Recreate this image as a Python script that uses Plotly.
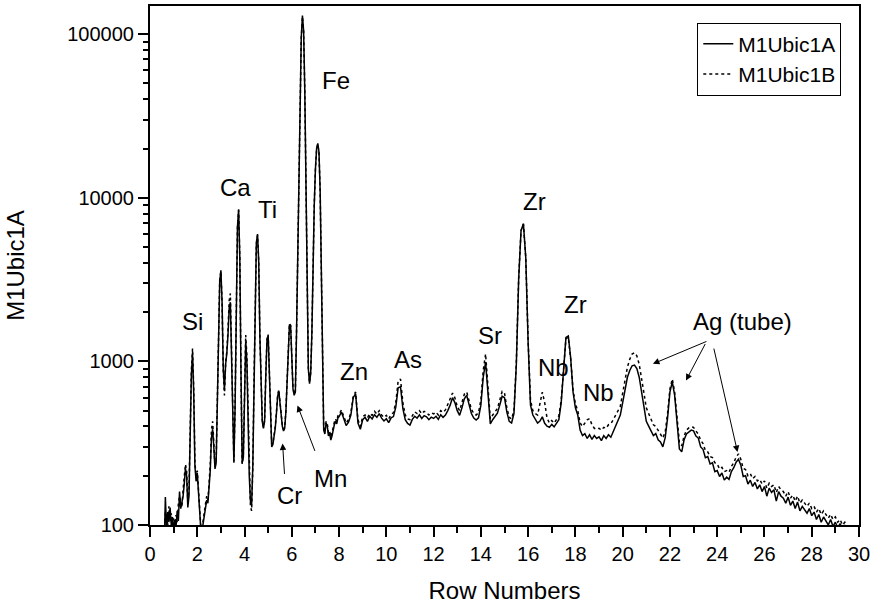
import numpy as np
import plotly.graph_objects as go

# ---------------- data ----------------
# low-energy part: rows 0.60 .. 7.95 (step 0.05)
x_low = np.round(np.arange(0.60, 7.951, 0.05), 2)
a_low = [
    70, 148, 96, 120, 104, 128, 99, 112,
    92, 108, 97, 122, 106, 160, 126, 138, 150, 178, 222, 200, 128, 150, 380, 820, 1130, 640, 230, 185,
    208, 150, 108, 94, 92, 104, 120, 128, 142, 136, 168, 215, 340, 385, 300, 220, 240, 520, 1500, 3100,
    3600, 2300, 900, 670, 960, 1120, 1450, 2100, 2300, 1050, 330, 240, 520, 2300, 6600, 8500, 4300, 850, 240, 260,
    720, 1320, 980, 430, 200, 140, 132, 230, 760, 2600, 5300, 6000, 4100, 1400, 610, 430, 390, 430, 820, 1350,
    1440, 880, 420, 300, 310, 345, 390, 480, 610, 660, 560, 450, 400, 375, 390, 490, 820, 1350, 1680, 1650,
    1050, 680, 620, 650, 1500, 5000, 15000, 45000, 95000, 130000, 105000, 45000, 12000, 2500, 900, 730, 850, 1500, 4000, 9000,
    15000, 20000, 21500, 19000, 11000, 3500, 900, 380, 360, 420, 405, 350, 365, 330, 350, 390, 410, 430, 415, 450,
]
b_low = [
    75, 120, 112, 98, 130, 105, 118, 100,
    110, 96, 115, 104, 135, 150, 140, 128, 165, 190, 235, 215, 140, 160, 400, 880, 1200, 690, 245, 195,
    215, 155, 112, 98, 95, 110, 124, 135, 150, 142, 180, 235, 380, 430, 320, 225, 250, 540, 1550, 3150,
    3550, 2300, 880, 620, 980, 1150, 1550, 2350, 2600, 1150, 340, 245, 530, 2300, 6500, 8400, 4300, 860, 235, 270,
    780, 1450, 1080, 460, 195, 130, 122, 225, 750, 2550, 5200, 5900, 4100, 1420, 620, 440, 395, 440, 830, 1370,
    1460, 900, 430, 310, 315, 350, 400, 490, 620, 670, 570, 460, 405, 385, 400, 500, 830, 1370, 1700, 1660,
    1060, 690, 630, 660, 1520, 5000, 15000, 45000, 94000, 128000, 104000, 45000, 12000, 2500, 910, 740, 860, 1500, 4000, 9000,
    15000, 19800, 21300, 18800, 11000, 3500, 910, 390, 370, 430, 420, 365, 375, 345, 365, 400, 425, 445, 430, 465,
]

# high-energy part: rows 8.0 .. 29.6 (step 0.1)
x_high = np.round(np.arange(8.0, 29.601, 0.1), 1)
a_high = [
    460, 490, 445, 405, 425, 470, 600, 635, 420, 385,
    440, 455, 430, 462, 445, 472, 455, 480, 450, 432,
    446, 422, 452, 460, 525, 690, 700, 515, 440, 418,
    408, 442, 462, 450, 472, 448, 466, 458, 440, 456,
    448, 462, 442, 472, 455, 470, 500, 540, 600, 560,
    500, 468, 520, 590, 620, 540, 480, 450, 438, 452,
    540, 800, 990, 640, 415, 440, 458, 482, 540, 612,
    600, 490, 430, 420, 480, 950, 3200, 6300, 6950, 4300,
    1300, 540, 470, 448, 420, 432, 458, 418, 402, 396,
    412, 398, 422, 440, 560, 950, 1400, 1430, 1050, 650,
    520, 470, 380, 352, 362, 338, 356, 334, 352, 338,
    346, 328, 352, 338, 356, 344, 372, 400, 432, 470,
    560, 680, 800, 880, 940, 950, 905, 800, 660, 520,
    430, 402, 372, 352, 362, 332, 322, 300, 342, 450,
    650, 750, 620, 400, 292, 280, 332, 360, 372, 380,
    376, 350, 340, 300, 290, 258, 262, 236, 240, 212,
    215, 198, 208, 188, 196, 190, 212, 224, 242, 252,
    232, 198, 200, 178, 188, 172, 182, 166, 176, 160,
    172, 150, 168, 158, 164, 140, 160, 150, 146, 136,
    148, 132, 140, 126, 138, 122, 130, 124, 118, 126,
    114, 120, 108, 116, 104, 112, 106, 100, 108, 98,
    104, 96, 102, 94, 100, 92, 80,
]
b_high = [
    475, 505, 460, 420, 440, 485, 615, 650, 440, 400,
    460, 470, 452, 480, 468, 495, 476, 500, 470, 455,
    468, 445, 475, 485, 560, 760, 780, 560, 470, 445,
    440, 470, 492, 480, 500, 478, 495, 488, 470, 485,
    478, 490, 470, 500, 488, 505, 540, 590, 640, 600,
    530, 500, 560, 630, 650, 570, 510, 480, 470, 485,
    580, 880, 1110, 700, 445, 470, 490, 515, 580, 655,
    640, 520, 455, 445, 500, 980, 3250, 6300, 6900, 4300,
    1350, 580, 500, 480, 470, 560, 648, 560, 450, 420,
    435, 420, 440, 465, 580, 960, 1380, 1400, 1040, 670,
    550, 500, 420, 400, 420, 440, 447, 410, 390, 385,
    390, 380, 395, 390, 410, 415, 440, 470, 500, 530,
    640, 780, 920, 1030, 1110, 1130, 1080, 960, 800, 640,
    520, 480, 440, 410, 400, 380, 360, 340, 370, 480,
    680, 780, 650, 430, 320, 305, 350, 380, 392, 398,
    395, 375, 360, 330, 315, 285, 280, 262, 258, 240,
    236, 220, 225, 212, 215, 210, 228, 240, 260, 272,
    252, 222, 218, 200, 206, 192, 198, 186, 190, 178,
    186, 168, 180, 172, 176, 158, 172, 164, 160, 150,
    160, 146, 152, 140, 150, 136, 142, 136, 130, 136,
    126, 130, 120, 126, 116, 122, 116, 110, 116, 108,
    112, 104, 108, 100, 104, 96, 84,
]

series_names = ["M1Ubic1A", "M1Ubic1B"]
x_tickvals = list(range(0, 31, 2))
y_tickvals = [100, 1000, 10000, 100000]
y_ticktext = ["100", "1000", "10000", "100000"]
y_minorvals = [m * 10 ** e for e in (2, 3, 4) for m in range(2, 10)]

# element labels: (text, row, counts)
peak_labels = [
    ("Si", 1.80, 1750), ("Ca", 3.61, 11600), ("Ti", 4.96, 8530),
    ("Fe", 7.87, 52000), ("Zn", 8.63, 867), ("As", 10.91, 1026),
    ("Cr", 5.89, 152), ("Mn", 7.62, 193), ("Sr", 14.40, 1436),
    ("Zr", 16.26, 9500), ("Zr", 17.99, 2218), ("Nb", 17.06, 916),
    ("Nb", 18.96, 646), ("Ag (tube)", 25.07, 1750),
]
# arrows: (head row, head counts, tail dx px, tail dy px)
arrows = [
    (5.61, 315, 2, 32), (6.24, 538, 18, 47),
    (21.28, 966, 55, -23), (22.68, 764, 20, -38), (24.86, 279, -24, -105),
]

x_all = np.concatenate([x_low, x_high])
a_all = np.array(a_low + a_high, dtype=float)
b_all = np.array(b_low + b_high, dtype=float)
assert len(a_low) == len(x_low) == len(b_low)
assert len(a_high) == len(x_high) == len(b_high)

FONT = "Liberation Sans, Arial, sans-serif"

fig = go.Figure()
fig.add_trace(go.Scatter(x=x_all, y=a_all, mode="lines", name=series_names[0],
                         line=dict(color="black", width=1.5)))
fig.add_trace(go.Scatter(x=x_all, y=b_all, mode="lines", name=series_names[1],
                         line=dict(color="black", width=1.5, dash="dot")))

for text, xv, yv in peak_labels:
    fig.add_annotation(x=xv, y=np.log10(yv), text=text, showarrow=False,
                       font=dict(family=FONT, size=24, color="black"))
for xv, yv, dx, dy in arrows:
    fig.add_annotation(x=xv, y=np.log10(yv), text="", showarrow=True,
                       ax=dx, ay=dy, arrowhead=2, arrowsize=1.3, arrowwidth=1,
                       arrowcolor="black")

fig.update_layout(
    width=874, height=608,
    margin=dict(l=150, r=12, t=4, b=83),
    paper_bgcolor="white", plot_bgcolor="white",
    font=dict(family=FONT, color="black"),
    showlegend=True,
    legend=dict(x=0.975, y=0.968, xanchor="right", yanchor="top",
                bordercolor="black", borderwidth=1, bgcolor="white",
                font=dict(size=21, family=FONT), tracegroupgap=0),
    xaxis=dict(range=[0, 30], tickvals=x_tickvals, ticks="outside", ticklen=10,
               tickwidth=2, tickcolor="black", showline=True, linewidth=2,
               linecolor="black", mirror=True, showgrid=False, zeroline=False,
               tickfont=dict(size=20),
               minor=dict(dtick=1, tick0=0, ticks="outside", ticklen=6,
                          tickwidth=2, tickcolor="black", showgrid=False),
               title=dict(text="Row Numbers", font=dict(size=24), standoff=18)),
    yaxis=dict(type="log", range=[2, 5.172], tickvals=y_tickvals,
               ticktext=y_ticktext, ticks="outside", ticklen=10, tickwidth=2,
               tickcolor="black", showline=True, linewidth=2, linecolor="black",
               mirror=True, showgrid=False, zeroline=False,
               tickfont=dict(size=20),
               minor=dict(tickvals=y_minorvals, ticks="outside", ticklen=5,
                          tickwidth=1.5, tickcolor="black", showgrid=False),
               title=dict(text="M1Ubic1A", font=dict(size=24), standoff=36)),
)

fig.write_html("out.html", config={"displayModeBar": False},
               post_script="document.body.style.margin='0px';document.body.style.overflow='hidden';")
